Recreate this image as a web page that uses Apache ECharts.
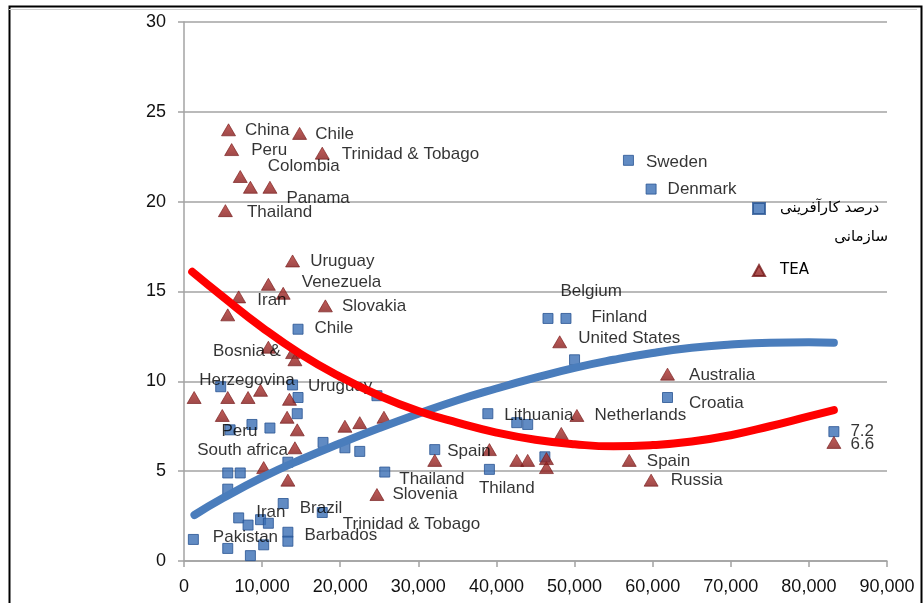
<!DOCTYPE html>
<html>
<head>
<meta charset="utf-8">
<script src="https://cdn.jsdelivr.net/npm/echarts@6/dist/echarts.min.js"></script>
<style>
  html, body { margin: 0; padding: 0; background: #fff; }
  #chart { width: 924px; height: 603px; }
</style>
</head>
<body>
<div id="chart"></div>
<script>
// Organisational entrepreneurship (%) against income per head: [x, y, label]
const orgEntrepreneurship = [
  [56900, 22.3, 'Sweden'], [59800, 20.7, 'Denmark'], [46600, 13.5, 'Belgium'],
  [48900, 13.5, 'Finland'], [50000, 11.2, ''], [61900, 9.1, 'Croatia'],
  [14600, 12.9, 'Chile'], [38900, 8.2, 'Lithuania'], [42600, 7.7, ''],
  [44000, 7.6, ''], [46200, 5.8, ''], [39100, 5.1, 'Thiland'],
  [32100, 6.2, 'Spain'], [25700, 4.95, 'Thailand'], [24700, 9.2, ''],
  [17800, 6.6, ''], [20600, 6.3, ''], [22500, 6.1, ''],
  [17700, 2.7, 'Trinidad & Tobago'], [12700, 3.2, 'Brazil'], [13300, 1.6, 'Barbados'],
  [13300, 1.1, ''], [1200, 1.2, 'Pakistan'], [5600, 0.7, ''],
  [8500, 0.3, ''], [10200, 0.9, ''], [7000, 2.4, 'Iran'],
  [8200, 2.0, ''], [9800, 2.3, ''], [10800, 2.1, ''],
  [5600, 4.9, 'South africa'], [7200, 4.9, ''], [5600, 4.0, ''],
  [8700, 7.6, 'Peru'], [11000, 7.4, ''], [5900, 7.3, ''],
  [13900, 9.8, 'Uruguay'], [14600, 9.1, ''], [14500, 8.2, ''],
  [4700, 9.7, ''], [13300, 5.5, ''], [83200, 7.2, '=']
];

// Total early-stage entrepreneurial activity (TEA): [x, y, label]
const teaRate = [
  [5700, 24.0, 'China'], [14800, 23.8, 'Chile'], [6100, 22.9, 'Peru'],
  [17700, 22.7, 'Trinidad & Tobago'], [7200, 21.4, 'Colombia'], [8500, 20.8, ''],
  [11000, 20.8, 'Panama'], [5300, 19.5, 'Thailand'], [13900, 16.7, 'Uruguay'],
  [10800, 15.4, ''], [12700, 14.9, 'Venezuela'], [7000, 14.7, 'Iran'],
  [5600, 13.7, ''], [18100, 14.2, 'Slovakia'], [10800, 11.9, 'Bosnia &\nHerzegovina'],
  [13900, 11.6, ''], [14200, 11.2, ''], [1300, 9.1, ''],
  [5600, 9.1, ''], [8200, 9.1, ''], [9800, 9.5, ''],
  [13500, 9.0, ''], [4900, 8.1, ''], [13200, 8.0, ''],
  [14500, 7.3, ''], [14200, 6.3, ''], [13300, 4.5, ''],
  [10200, 5.2, ''], [20600, 7.5, ''], [22500, 7.7, ''],
  [25600, 8.0, ''], [24700, 3.7, 'Slovenia'], [32100, 5.6, ''],
  [39100, 6.2, ''], [42600, 5.6, ''], [44000, 5.6, ''],
  [46400, 5.2, ''], [46400, 5.7, ''], [48300, 7.1, ''],
  [50300, 8.1, 'Netherlands'], [48100, 12.2, 'United States'], [61900, 10.4, 'Australia'],
  [57000, 5.6, 'Spain'], [59800, 4.5, 'Russia'], [83200, 6.6, '=']
];

// Fitted trend curves
const orgTrend = [
  [1340, 2.56], [5000, 3.5], [10000, 4.65], [15000, 5.65], [20000, 6.55],
  [25000, 7.4], [30000, 8.2], [35000, 8.95], [40000, 9.6], [45000, 10.2],
  [50000, 10.75], [55000, 11.2], [60000, 11.58], [65000, 11.87], [70000, 12.05],
  [75000, 12.15], [80000, 12.17], [83200, 12.15]
];
const teaTrend = [
  [1050, 16.1], [5000, 14.7], [10000, 13.0], [15000, 11.5], [20000, 10.25],
  [25000, 9.2], [30000, 8.35], [35000, 7.7], [40000, 7.15], [45000, 6.75],
  [50000, 6.5], [55000, 6.38], [60000, 6.45], [65000, 6.65], [70000, 7.0],
  [75000, 7.5], [80000, 8.05], [83200, 8.4]
];

const seriesNames = ['درصد کارآفرینی سازمانی', 'TEA'];
const legendLines = ['درصد کارآفرینی', 'سازمانی'];
const xAxisScale = { min: 0, max: 90000, interval: 10000 };
const yAxisScale = { min: 0, max: 30, interval: 5 };

// Label placement: offset from marker centre to the text's left edge / middle
const orgLabelPlace = {
  'Sweden': [18, 2], 'Denmark': [17, 1], 'Belgium': [13, -27], 'Finland': [26, -1],
  'Croatia': [22, 6], 'Chile': [17, 0], 'Lithuania': [17, 2], 'Thiland': [-10, 19],
  'Spain': [13, 2], 'Thailand': [15, 8], 'Trinidad & Tobago': [21, 12], 'Brazil': [17, 5],
  'Barbados': [17, 4], 'Pakistan': [20, -2], 'Iran': [18, -5], 'South africa': [-30, -22],
  'Peru': [-30, 7], 'Uruguay': [16, 2], '=': [17, 0]
};
const teaLabelPlace = {
  'China': [17, 1], 'Chile': [16, 1], 'Peru': [20, 1], 'Trinidad & Tobago': [20, 2],
  'Colombia': [28, -10], 'Panama': [17, 11], 'Thailand': [22, 2], 'Uruguay': [18, 1],
  'Venezuela': [19, -11], 'Iran': [19, 4], 'Slovakia': [17, 1],
  'Bosnia &\nHerzegovina': [-21, 19, 'center'], 'Netherlands': [18, 0],
  'United States': [19, -3], 'Australia': [22, 2], 'Spain': [18, 1], 'Russia': [20, 1],
  'Slovenia': [16, 0], '=': [17, 2]
};

const LABEL_FONT = 'Liberation Sans, Arial, sans-serif';
const SQUARE = [10, 10];
const TRIANGLE = [14, 12];

function buildPoints(list, place, size) {
  return list.map(([x, y, name]) => {
    const item = { value: [x, y] };
    if (name) {
      const p = place[name] || [17, 0];
      item.label = {
        show: true,
        formatter: name === '=' ? String(y) : name,
        position: [p[0] + size[0] / 2, p[1] + size[1] / 2],
        align: p[2] || 'left',
        verticalAlign: 'middle',
        lineHeight: 29
      };
    }
    return item;
  });
}

const chart = echarts.init(document.getElementById('chart'), null, { renderer: 'canvas' });

const axisGray = '#a3a3a3';
const labelStyle = {
  show: false,
  color: '#000',
  fontFamily: LABEL_FONT,
  fontSize: 17
};

chart.setOption({
  animation: false,
  backgroundColor: '#ffffff',
  grid: { left: 184, right: 37, top: 22, bottom: 42, containLabel: false },
  xAxis: {
    type: 'value',
    min: xAxisScale.min, max: xAxisScale.max, interval: xAxisScale.interval,
    axisLine: { show: true, onZero: false, lineStyle: { color: axisGray, width: 1.5 } },
    axisTick: { show: true, length: 6, lineStyle: { color: axisGray, width: 1.5 } },
    splitLine: { show: false },
    axisLabel: {
      margin: 17, color: '#111', fontFamily: LABEL_FONT, fontSize: 18,
      formatter: v => v.toLocaleString('en-US')
    }
  },
  yAxis: {
    type: 'value',
    min: yAxisScale.min, max: yAxisScale.max, interval: yAxisScale.interval,
    axisLine: { show: true, lineStyle: { color: axisGray, width: 1.5 } },
    axisTick: { show: true, length: 6, lineStyle: { color: axisGray, width: 1.5 } },
    splitLine: { show: true, lineStyle: { color: axisGray, width: 1.5 } },
    axisLabel: { margin: 18, color: '#111', fontFamily: LABEL_FONT, fontSize: 18 }
  },
  legend: {
    orient: 'vertical',
    left: 747, top: 196,
    itemWidth: 12, itemHeight: 11,
    itemGap: 47,
    data: [
      { name: seriesNames[0], icon: 'rect' },
      { name: seriesNames[1], icon: 'triangle' }
    ],
    formatter: name => name === seriesNames[0] ? legendLines[0] : name,
    textStyle: {
      color: '#000', fontFamily: 'DejaVu Sans, Liberation Sans, sans-serif',
      fontSize: 15, padding: [0, 0, 0, 10]
    }
  },
  graphic: [
    {
      type: 'text', right: 36, top: 230, z: 10,
      style: {
        text: legendLines[1], fill: '#000',
        font: '15px "DejaVu Sans", sans-serif'
      }
    },
    {
      type: 'rect', left: 7, top: 4, z: 20, silent: true,
      shape: { width: 912, height: 640 },
      style: { fill: 'none', stroke: '#000', lineWidth: 2 }
    },
    {
      type: 'line', z: 20, silent: true,
      shape: { x1: 9, y1: 9.5, x2: 917, y2: 9.5 },
      style: { stroke: '#cfcfcf', lineWidth: 1 }
    }
  ],
  series: [
    {
      name: seriesNames[0],
      type: 'scatter',
      symbol: 'rect',
      symbolSize: SQUARE,
      z: 2,
      itemStyle: { color: '#3a6eb4', borderColor: '#285492', borderWidth: 1 },
      label: labelStyle,
      emphasis: { disabled: true },
      data: buildPoints(orgEntrepreneurship, orgLabelPlace, SQUARE)
    },
    {
      name: seriesNames[1],
      type: 'scatter',
      symbol: 'triangle',
      symbolSize: TRIANGLE,
      z: 2,
      itemStyle: {
        color: new echarts.graphic.LinearGradient(0, 0, 0, 1, [
          { offset: 0, color: '#b3342f' },
          { offset: 1, color: '#861b1b' }
        ]),
        borderColor: '#741818', borderWidth: 0.8
      },
      label: labelStyle,
      emphasis: { disabled: true },
      data: buildPoints(teaRate, teaLabelPlace, TRIANGLE)
    },
    {
      name: 'orgTrend',
      type: 'line',
      smooth: true,
      showSymbol: false,
      z: 4,
      lineStyle: { color: '#4a7dbc', width: 8, cap: 'round' },
      emphasis: { disabled: true },
      data: orgTrend
    },
    {
      name: 'teaTrend',
      type: 'line',
      smooth: true,
      showSymbol: false,
      z: 5,
      lineStyle: { color: '#ff0000', width: 8, cap: 'round' },
      emphasis: { disabled: true },
      data: teaTrend
    }
  ]
});
</script>
</body>
</html>
